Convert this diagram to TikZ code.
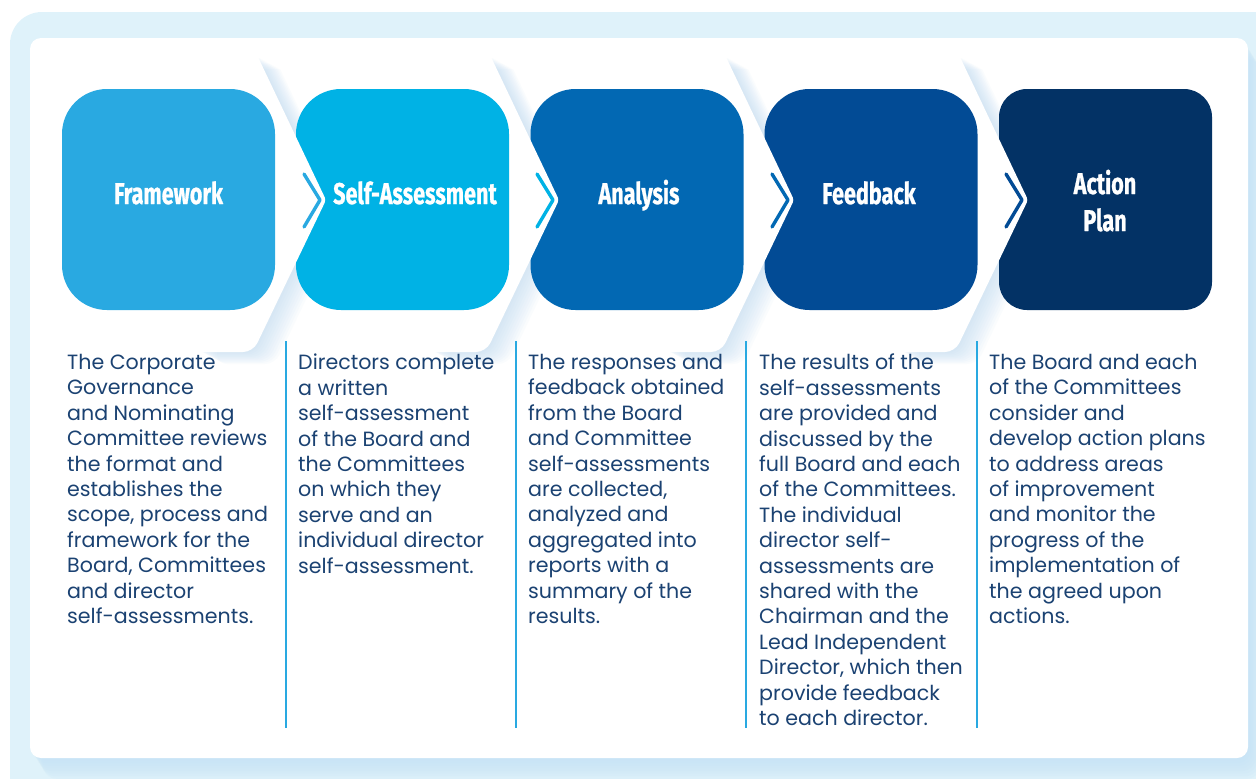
\documentclass[tikz,border=0pt]{standalone}
\usepackage{fontspec}
\usetikzlibrary{calc}
\newfontfamily\bodyfont{Poppins}
\newfontfamily\titlefont[FakeStretch=0.72,FakeBold=0.8]{Fira Sans}
\definecolor{bA}{HTML}{29A9E1}
\definecolor{bB}{HTML}{00B2E5}
\definecolor{bC}{HTML}{0268B3}
\definecolor{bD}{HTML}{024B95}
\definecolor{bE}{HTML}{033265}
\definecolor{txt}{HTML}{1B4272}
\definecolor{bgc}{HTML}{DFF2FA}
\definecolor{pshad}{HTML}{C6E3F6}
\definecolor{chshad}{HTML}{B9D8F0}
\tikzset{
  box/.style={rounded corners=45pt, minimum width=213pt, minimum height=221pt, inner sep=0pt, draw=none},
  ttl/.style={text=white, font=\titlefont\bfseries\fontsize{30}{37}\selectfont, align=center, inner sep=0pt, anchor=base},
  body/.style={text=txt, font=\bodyfont\fontsize{20.6}{25.4}\selectfont, align=left, anchor=north west, inner sep=0pt},
  sepline/.style={draw=bA, line width=2.2pt},
  glyph/.style={line width=3.4pt, line cap=round, line join=round},
}
\begin{document}
\begin{tikzpicture}[x=1pt,y=-1pt]
\useasboundingbox (0,0) rectangle (1256,779);
\clip (0,0) rectangle (1256,779);
% background frame
\fill[bgc, rounded corners=32pt] (10,12) rectangle (1320,840);
\foreach \k in {1,...,8}{
  \fill[pshad, opacity=0.18, rounded corners=14pt] ($(30,38)+(\k*1.6,\k*2.6)$) rectangle ($(1248,758)+(\k*1.6,\k*2.6)$);
}
\fill[white, rounded corners=11pt] (30,38) rectangle (1248,758);
% chevron shadows
\foreach \xa in {275,508,743,977}{
  \foreach \k in {1,...,10}{
    \fill[chshad, opacity=0.07, shift={(\k*2.2,\k*1.2)}]
      (\xa-80,57) -- (\xa-17,57) -- (\xa+51,200) [rounded corners=10pt] -- (\xa-22,352) -- (\xa-80,352) -- cycle;
  }
}
% boxes and white chevrons (right to left)
\node[box, fill=bE, rounded corners=28pt] (s5) at (1105.5,199.5) {};
\fill[white] (977-80,57) -- (977-17,57) [rounded corners=3pt] -- (977+51,200) [rounded corners=10pt] -- (977-22,352) [sharp corners] -- (977-80,352) -- cycle;
\node[box, fill=bD] (s4) at (871,199.5) {};
\fill[white] (743-80,57) -- (743-17,57) [rounded corners=3pt] -- (743+51,200) [rounded corners=10pt] -- (743-22,352) [sharp corners] -- (743-80,352) -- cycle;
\node[box, fill=bC] (s3) at (637,199.5) {};
\fill[white] (508-80,57) -- (508-17,57) [rounded corners=3pt] -- (508+51,200) [rounded corners=10pt] -- (508-22,352) [sharp corners] -- (508-80,352) -- cycle;
\node[box, fill=bB] (s2) at (402.5,199.5) {};
\fill[white] (275-80,57) -- (275-17,57) [rounded corners=3pt] -- (275+51,200) [rounded corners=10pt] -- (275-22,352) [sharp corners] -- (275-80,352) -- cycle;
\node[box, fill=bA] (s1) at (168.5,199.5) {};
% small chevron glyphs
\draw[glyph, draw=bA] (304,174) -- (320,200) -- (304,227);
\draw[glyph, draw=bB] (537,174) -- (553,200) -- (537,227);
\draw[glyph, draw=bC] (772,174) -- (788,200) -- (772,227);
\draw[glyph, draw=bD] (1006,174) -- (1022,200) -- (1006,227);
% titles
\node[ttl] (t1) at (168.5,204) {Framework};
\node[ttl] (t2) at (415,204) {Self-Assessment};
\node[ttl] (t3) at (639,204) {Analysis};
\node[ttl] (t4) at (869,204) {Feedback};
\node[ttl] (t5a) at (1105,194) {Action};
\node[ttl] (t5b) at (1105,231) {Plan};
% separators
\draw[sepline] (286,341) -- (286,728);
\draw[sepline] (516,341) -- (516,728);
\draw[sepline] (746,341) -- (746,728);
\draw[sepline] (977,341) -- (977,728);
% body texts
\node[body] (d1) at (67,354) {The Corporate\\Governance\\and Nominating\\Committee reviews\\the format and\\establishes the\\scope, process and\\framework for the\\Board, Committees\\and director\\self-assessments.};
\node[body] (d2) at (298,354) {Directors complete\\a written\\self-assessment\\of the Board and\\the Committees\\on which they\\serve and an\\individual director\\self-assessment.};
\node[body] (d3) at (528,354) {The responses and\\feedback obtained\\from the Board\\and Committee\\self-assessments\\are collected,\\analyzed and\\aggregated into\\reports with a\\summary of the\\results.};
\node[body] (d4) at (759,354) {The results of the\\self-assessments\\are provided and\\discussed by the\\full Board and each\\of the Committees.\\The individual\\director self-\\assessments are\\shared with the\\Chairman and the\\Lead Independent\\Director, which then\\provide feedback\\to each director.};
\node[body] (d5) at (989,354) {The Board and each\\of the Committees\\consider and\\develop action plans\\to address areas\\of improvement\\and monitor the\\progress of the\\implementation of\\the agreed upon\\actions.};
\end{tikzpicture}
\end{document}
